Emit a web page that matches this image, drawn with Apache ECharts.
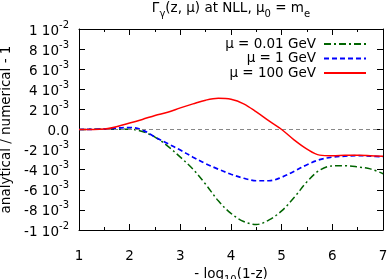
<!DOCTYPE html>
<html><head><meta charset="utf-8">
<script src="https://cdn.jsdelivr.net/npm/echarts@6/dist/echarts.min.js"></script>
<style>html,body{margin:0;padding:0;background:#fff}#c{width:390px;height:279px}</style>
</head><body><div id="c"></div>
<script>
// x = -log10(1-z)
var xValues = [1, 1.5, 2, 2.25, 2.5, 2.75, 3, 3.25, 3.5, 3.75, 4, 4.25, 4.5, 4.75, 5, 5.25, 5.5, 5.75, 6, 6.25, 6.5, 6.75, 7];
// analytical/numerical - 1, in units of 1e-3
var mu001 = [0, 0.03, 0.03, -0.2, -0.75, -1.65, -2.75, -3.95, -5.45, -7.1, -8.35, -9.15, -9.45, -9.0, -8.1, -6.75, -5.2, -4.05, -3.62, -3.6, -3.72, -3.92, -4.4];
var mu1 = [0, 0.05, 0.2, -0.05, -0.75, -1.4, -2.05, -2.75, -3.4, -3.95, -4.45, -4.85, -5.1, -5.1, -4.75, -4.15, -3.5, -3.0, -2.75, -2.65, -2.6, -2.65, -2.73];
var mu100 = [0, 0.05, 0.65, 1.0, 1.4, 1.72, 2.15, 2.55, 2.92, 3.1, 3.0, 2.55, 1.75, 0.85, 0.0, -1.05, -1.95, -2.55, -2.62, -2.57, -2.55, -2.6, -2.67];
var seriesNames = ['μ = 0.01 GeV', 'μ = 1 GeV', 'μ = 100 GeV'];
var xTickLabels = ['1', '2', '3', '4', '5', '6', '7'];
var yTickLabels = [['-1', '-2'], ['-8', '-3'], ['-6', '-3'], ['-4', '-3'], ['-2', '-3'], ['0.0', ''], ['2', '-3'], ['4', '-3'], ['6', '-3'], ['8', '-3'], ['1', '-2']];

function pairs(ys) { return xValues.map(function (x, i) { return [x, ys[i]]; }); }
var FONT = 'DejaVu Sans';
var FS = 13.5, FSS = 10;
var chart = echarts.init(document.getElementById('c'), null, {renderer: 'canvas'});
var axisCommon = {
  axisLine: {show: true, onZero: false, lineStyle: {color: '#000', width: 1}},
  splitLine: {show: false}
};
var richSub = {
  n: {fontFamily: FONT, fontSize: FS, fontWeight: 'normal', color: '#000', verticalAlign: 'top', lineHeight: 18},
  s: {fontFamily: FONT, fontSize: FSS, fontWeight: 'normal', color: '#000', verticalAlign: 'bottom', lineHeight: 18, padding: [6, 0, 0, 0]}
};
chart.setOption({
  animation: false,
  textStyle: {fontFamily: FONT},
  title: {
    text: '{n|Γ}{s|γ}{n|(z, μ) at NLL, μ}{s|0}{n| = m}{s|e}',
    left: 231, top: 1, textAlign: 'center', padding: 0,
    textStyle: {fontWeight: 'normal', rich: richSub}
  },
  legend: [0, 1, 2].map(function (i) {
    return {
      data: [seriesNames[i]], orient: 'vertical', align: 'right', padding: 0,
      right: 23, top: 37 + i * 14.5, itemWidth: 42, itemHeight: 12, itemGap: 0,
      itemStyle: {opacity: 0},
      textStyle: {fontFamily: FONT, fontSize: FS, color: '#000', padding: [0, 3, 0, 0]},
      selectedMode: false
    };
  }),
  grid: {left: 79, right: 7, top: 29, bottom: 49, containLabel: false, outerBoundsMode: 'none'},
  xAxis: [
    Object.assign({}, axisCommon, {
      type: 'value', min: 1, max: 7, interval: 1, position: 'bottom',
      axisTick: {show: true, inside: true, length: 6, lineStyle: {color: '#000'}},
      minorTick: {show: true, splitNumber: 2, length: 3, lineStyle: {color: '#000'}},
      axisLabel: {margin: 19, fontFamily: FONT, fontSize: FS, color: '#000',
        formatter: function (v) { return xTickLabels[Math.round(v - 1)]; }},
      name: '{n|- log}{s|10}{n|(1-z)}', nameLocation: 'middle', nameGap: 32,
      nameTextStyle: {rich: richSub}
    }),
    Object.assign({}, axisCommon, {
      type: 'value', min: 1, max: 7, interval: 1, position: 'top',
      axisTick: {show: true, inside: true, length: 6, lineStyle: {color: '#000'}},
      minorTick: {show: true, splitNumber: 2, length: 3, lineStyle: {color: '#000'}},
      axisLabel: {show: false}
    })
  ],
  yAxis: [
    Object.assign({}, axisCommon, {
      type: 'value', min: -10, max: 10, interval: 2, position: 'left',
      axisTick: {show: true, inside: true, length: 6, lineStyle: {color: '#000'}},
      axisLabel: {margin: 10, fontFamily: FONT, fontSize: FS, color: '#000',
        formatter: function (v) {
          var t = yTickLabels[Math.round((v + 10) / 2)];
          return t[1] ? '{n|' + t[0] + ' 10}{p|' + t[1] + '}' : '{n|' + t[0] + '}';
        },
        rich: {
          n: {fontFamily: FONT, fontSize: FS, color: '#000', verticalAlign: 'bottom', lineHeight: 18},
          p: {fontFamily: FONT, fontSize: FSS, color: '#000', verticalAlign: 'top', lineHeight: 18, padding: [0, 0, 7, 0]}
        }},
      name: 'analytical / numerical - 1', nameLocation: 'middle', nameGap: 62, nameRotate: 90,
      nameTextStyle: {fontFamily: FONT, fontSize: FS, color: '#000'}
    }),
    Object.assign({}, axisCommon, {
      type: 'value', min: -10, max: 10, interval: 2, position: 'right',
      axisTick: {show: true, inside: true, length: 6, lineStyle: {color: '#000'}},
      axisLabel: {show: false}
    })
  ],
  series: [
    {name: seriesNames[0], type: 'line', data: pairs(mu001), smooth: 0.35, symbol: 'none',
      lineStyle: {color: '#006400', width: 1.5, type: [7, 3, 2, 3]}, itemStyle: {color: '#006400'}, z: 3,
      markLine: {silent: true, symbol: 'none', label: {show: false},
        lineStyle: {color: '#888', width: 1.2, type: [4, 3]}, data: [{yAxis: 0}]}},
    {name: seriesNames[1], type: 'line', data: pairs(mu1), smooth: 0.35, symbol: 'none',
      lineStyle: {color: '#0000ff', width: 1.7, type: [5, 3]}, itemStyle: {color: '#0000ff'}, z: 4},
    {name: seriesNames[2], type: 'line', data: pairs(mu100), smooth: 0.35, symbol: 'none',
      lineStyle: {color: '#ff0000', width: 1.5, type: 'solid'}, itemStyle: {color: '#ff0000'}, z: 5}
  ]
});
</script></body></html>
